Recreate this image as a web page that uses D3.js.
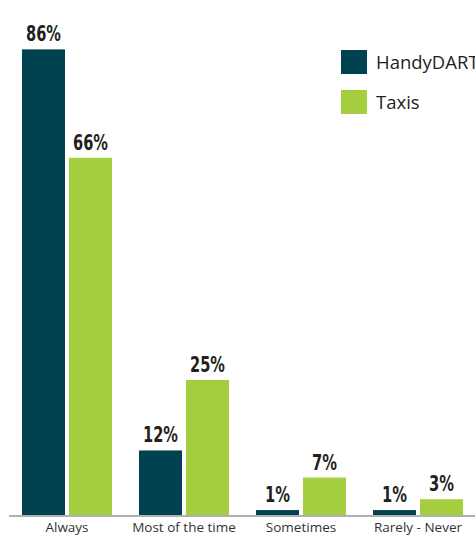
<!DOCTYPE html>
<html><head><meta charset="utf-8">
<script src="https://cdn.jsdelivr.net/npm/d3@7"></script>
<style>
body{margin:0;background:#fff;}
svg{display:block;}
</style></head>
<body><svg id="chart" width="475" height="538"></svg>
<script>
const categories = ["Always", "Most of the time", "Sometimes", "Rarely - Never"];
const seriesNames = ["HandyDART", "Taxis"];
const handyDART = [86, 12, 1, 1];
const taxis = [66, 25, 7, 3];
const colors = ["#00424f", "#a4ce3e"];

const seriesValues = [handyDART, taxis];
const svg = d3.select("#chart");

const x = d3.scaleBand().domain(categories).range([8.5, 476.5])
  .paddingInner(27/117).paddingOuter(13.5/117);
const xs = d3.scaleBand().domain(seriesNames).range([0, x.bandwidth()])
  .paddingInner(2 - 90/47).paddingOuter(0);
const y = d3.scaleLinear().domain([0, 100]).range([515.5, 515.5 - 542]);

const data = [];
categories.forEach((c, i) => seriesNames.forEach((s, j) => data.push({c, s, v: seriesValues[j][i], j})));

svg.selectAll("rect.bar").data(data).enter().append("rect")
  .attr("class", "bar")
  .attr("x", d => x(d.c) + xs(d.s))
  .attr("width", xs.bandwidth())
  .attr("y", d => y(d.v))
  .attr("height", d => y(0) - y(d.v))
  .attr("fill", d => colors[d.j]);

svg.selectAll("text.val").data(data).enter().append("text")
  .attr("class", "val")
  .attr("x", d => x(d.c) + xs(d.s) + xs.bandwidth()/2)
  .attr("y", d => y(d.v) - 8)
  .attr("text-anchor", "middle")
  .attr("textLength", d => String(d.v).length * 10 + 15)
  .attr("lengthAdjust", "spacingAndGlyphs")
  .style("font-family", "'Liberation Sans Narrow','DejaVu Sans Condensed','Roboto Condensed',sans-serif")
  .style("font-stretch", "condensed")
  .style("font-weight", "bold")
  .style("font-size", "21px")
  .attr("fill", "#231f20")
  .text(d => d.v + "%");

const axis = svg.append("g").attr("transform", `translate(0,${y(0)})`)
  .call(d3.axisBottom(x).tickSize(0).tickPadding(7));
axis.select(".domain").attr("stroke", "#b0b0b0").attr("stroke-width", 2);
axis.selectAll("text")
  .style("font-family", "'Open Sans',sans-serif")
  .style("font-size", "13.5px")
  .attr("fill", "#333");

const legend = svg.append("g");
seriesNames.forEach((s, i) => {
  const g = legend.append("g").attr("transform", `translate(341,${50 + i*40})`);
  g.append("rect").attr("width", 26).attr("height", 24).attr("fill", colors[i]);
  g.append("text").attr("x", 35).attr("y", 19)
    .style("font-family", "'Open Sans',sans-serif")
    .style("font-size", "18.5px")
    .attr("fill", "#231f20")
    .text(s);
});
</script></body></html>
